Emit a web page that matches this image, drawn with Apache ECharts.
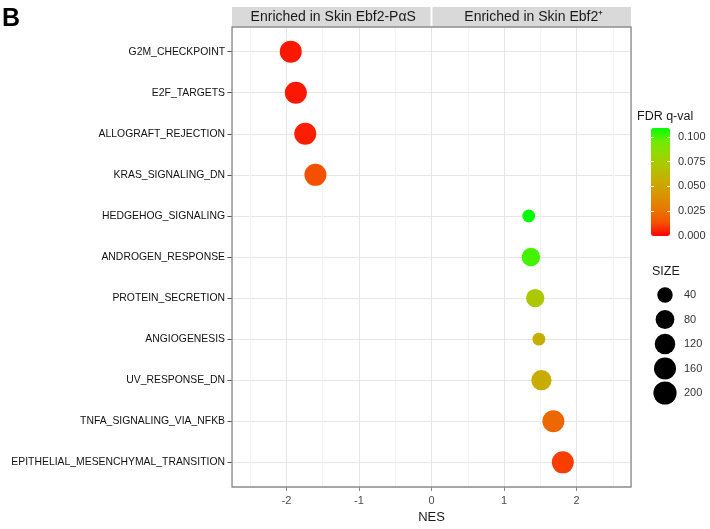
<!DOCTYPE html>
<html><head><meta charset="utf-8">
<script src="https://cdn.jsdelivr.net/npm/echarts@6/dist/echarts.min.js"></script>
<style>html,body{margin:0;padding:0;background:#fff}#c{width:710px;height:529px}</style>
</head><body><div id="c"></div>
<script>
// ---- data ----
const pathways = ['G2M_CHECKPOINT','E2F_TARGETS','ALLOGRAFT_REJECTION','KRAS_SIGNALING_DN','HEDGEHOG_SIGNALING','ANDROGEN_RESPONSE','PROTEIN_SECRETION','ANGIOGENESIS','UV_RESPONSE_DN','TNFA_SIGNALING_VIA_NFKB','EPITHELIAL_MESENCHYMAL_TRANSITION'];
const nes = [-1.94, -1.87, -1.74, -1.60, 1.34, 1.37, 1.43, 1.48, 1.515, 1.68, 1.81];
const fdrQ = [0.004, 0.004, 0.005, 0.013, 0.109, 0.101, 0.072, 0.057, 0.055, 0.021, 0.010];
const geneSetSize = [200, 200, 200, 200, 36, 100, 96, 36, 144, 200, 200];
const xTicks = [-2, -1, 0, 1, 2];
const fdrTicks = [0, 0.025, 0.05, 0.075, 0.1];
const sizeTicks = [40, 80, 120, 160, 200];
const stripLabels = ['Enriched in Skin Ebf2-P\u03b1S', 'Enriched in Skin Ebf2\u207a'];
const gradientColors = ['#FF0000','#F45300','#E87700','#DA9200','#C9AB00','#B3C200','#98D700','#70EB00','#00FF00'];

const FONT = '"Liberation Sans", Arial, Helvetica, sans-serif';
const sizeMin = Math.min(...geneSetSize), sizeMax = Math.max(...geneSetSize);
function diam(v) { const t = Math.max(0, (v - sizeMin) / (sizeMax - sizeMin)); return 12.8 + 9.2 * Math.sqrt(t); }
function legendDiam(v) { return diam(v) + 1.2; }
const idx = pathways.map((_, i) => i);

const chart = echarts.init(document.getElementById('c'), null, {renderer: 'canvas'});
const option = {
  animation: false,
  backgroundColor: '#fff',
  textStyle: {fontFamily: FONT},
  title: [
    {text: 'B', left: 2, top: 7, padding: 0, textStyle: {fontSize: 25, fontWeight: 'bold', color: '#000', fontFamily: FONT}},
    {text: 'FDR q-val', left: 637, top: 110, padding: 0, textStyle: {fontSize: 12.5, fontWeight: 'normal', color: '#1a1a1a', fontFamily: FONT}},
    {text: 'SIZE', left: 652, top: 265, padding: 0, textStyle: {fontSize: 12.5, fontWeight: 'normal', color: '#1a1a1a', fontFamily: FONT}}
  ],
  grid: [
    {left: 232, top: 27, width: 399, height: 463, show: true, borderColor: '#8a8a8a', borderWidth: 1.3, backgroundColor: 'transparent', z: 3},
    {left: 651, top: 128, width: 19, height: 108, show: false},
    {left: 655, top: 295, width: 20, height: 98, show: false}
  ],
  xAxis: [
    {gridIndex: 0, type: 'value', min: -2.75, max: 2.75, position: 'bottom',
     axisLine: {show: false, onZero: false},
     axisTick: {show: true, customValues: xTicks, length: 4, lineStyle: {color: '#8a8a8a', width: 1}},
     axisLabel: {show: true, customValues: xTicks, color: '#4d4d4d', fontSize: 11, margin: 8, fontFamily: FONT},
     splitLine: {show: false},
     name: 'NES', nameLocation: 'middle', nameGap: 24, nameTextStyle: {fontSize: 13, color: '#1a1a1a', fontFamily: FONT}},
    {gridIndex: 0, type: 'value', min: -2.75, max: 2.75, splitNumber: 11, position: 'top',
     axisLine: {show: false, onZero: false}, axisTick: {show: false}, axisLabel: {show: false},
     splitLine: {show: true, lineStyle: {color: ['#E6E6E6', '#F3F3F3'], width: 1}}},
    {gridIndex: 1, type: 'value', show: false, min: 0, max: 1},
    {gridIndex: 2, type: 'value', show: false, min: -1, max: 1}
  ],
  yAxis: [
    {gridIndex: 0, type: 'value', min: -0.6, max: 10.6, splitNumber: 11, inverse: true, position: 'left',
     axisLine: {show: false, onZero: false},
     axisTick: {show: true, customValues: idx, length: 4.5, lineStyle: {color: '#555', width: 1}},
     axisLabel: {show: true, customValues: idx, formatter: v => pathways[Math.round(v)] || '', color: '#111', fontSize: 10.4, margin: 7, fontFamily: FONT},
     splitLine: {show: true, lineStyle: {color: '#E6E6E6', width: 1}}},
    {gridIndex: 1, type: 'value', min: 0, max: 0.109, position: 'right', z: 10,
     axisLine: {show: false, onZero: false},
     axisTick: {show: true, inside: true, customValues: fdrTicks, length: 3, lineStyle: {color: '#fff', width: 1}},
     axisLabel: {show: true, customValues: fdrTicks, formatter: v => v.toFixed(3), color: '#333', fontSize: 11, margin: 8, fontFamily: FONT},
     splitLine: {show: false}},
    {gridIndex: 1, type: 'value', min: 0, max: 0.109, position: 'left', z: 10,
     axisLine: {show: false, onZero: false},
     axisTick: {show: true, inside: true, customValues: fdrTicks, length: 3, lineStyle: {color: '#fff', width: 1}},
     axisLabel: {show: false}, splitLine: {show: false}},
    {gridIndex: 2, type: 'value', min: 40, max: 200, inverse: true, position: 'right',
     axisLine: {show: false, onZero: false}, axisTick: {show: false},
     axisLabel: {show: true, customValues: sizeTicks, color: '#333', fontSize: 11, margin: 9, fontFamily: FONT},
     splitLine: {show: false}}
  ],
  visualMap: [{
    type: 'continuous', min: 0, max: 0.109, seriesIndex: 0, dimension: 2,
    inRange: {color: gradientColors},
    left: 651, top: 128, itemWidth: 19, itemHeight: 108, padding: 0,
    text: null, calculable: false, showLabel: false, hoverLink: false
  }],
  series: [
    {type: 'scatter', xAxisIndex: 0, yAxisIndex: 0, z: 5,
     data: pathways.map((p, i) => [nes[i], i, fdrQ[i], geneSetSize[i]]),
     symbolSize: d => diam(d[3]),
     itemStyle: {opacity: 1}},
    {type: 'scatter', xAxisIndex: 3, yAxisIndex: 3,
     data: sizeTicks.map(v => [0, v]),
     symbolSize: d => legendDiam(d[1]),
     itemStyle: {color: '#000', opacity: 1}}
  ]
};
chart.setOption(option);

// facet strips above the panel, split at NES = 0
const xLeft = chart.convertToPixel({xAxisIndex: 0}, -2.75);
const xMid = chart.convertToPixel({xAxisIndex: 0}, 0);
const xRight = chart.convertToPixel({xAxisIndex: 0}, 2.75);
const stripTop = 7, stripH = 19.5;
const spans = [[xLeft, xMid - 1], [xMid + 1, xRight]];
const graphics = [];
spans.forEach((s, k) => {
  graphics.push({type: 'rect', shape: {x: s[0], y: stripTop, width: s[1] - s[0], height: stripH}, style: {fill: '#D9D9D9'}, silent: true});
  graphics.push({type: 'text', x: (s[0] + s[1]) / 2 + 2, y: stripTop + stripH / 2 + 0.5, style: {text: stripLabels[k], fill: '#1a1a1a', font: '14px ' + FONT, textAlign: 'center', textVerticalAlign: 'middle'}, silent: true});
});
chart.setOption({graphic: graphics});
</script></body></html>
